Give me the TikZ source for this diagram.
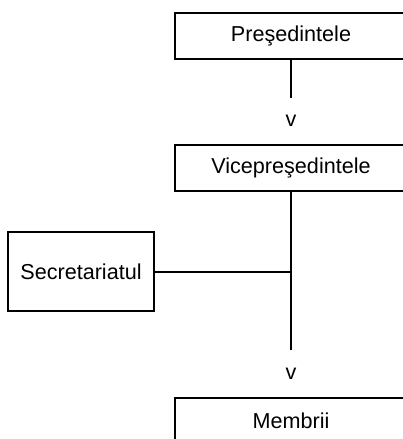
\documentclass[tikz,border=0pt]{standalone}
\usepackage{fontspec}
\setmainfont{Liberation Sans}
\usetikzlibrary{positioning}

\begin{document}
\begin{tikzpicture}[x=1pt, y=-1pt, node distance=132pt, on grid,
	font=\fontsize{21.6}{26}\selectfont,
	box/.style={draw, line width=2pt, minimum width=232pt, minimum height=46pt, inner sep=0pt},
	arrowtip/.style={inner sep=0pt},
	link/.style={line width=2pt}]
			\clip (0,0) rectangle (403,439);
			\node[box] (pres) at (291,36) {Preşedintele};
			\node[box] (vice) [below=of pres] {Vicepreşedintele};
			\node[box] (memb) [below=253pt of vice] {Membrii};
			\node[box, minimum width=146pt, minimum height=79pt] (secr) at (81,271.5) {Secretariatul};
			
			\coordinate (end1) at (291,98);
			\coordinate (end2) at (291,350);
			\coordinate (join) at (291,271.5);
			\node[arrowtip] (v1) at (291,121) {v};
			\node[arrowtip] (v2) at (291,374) {v};
			
			\draw[link] (pres) -- (end1);
			\draw[link] (vice) -- (end2);
			\draw[link] (secr) -- (join);
		\end{tikzpicture}
\end{document}
